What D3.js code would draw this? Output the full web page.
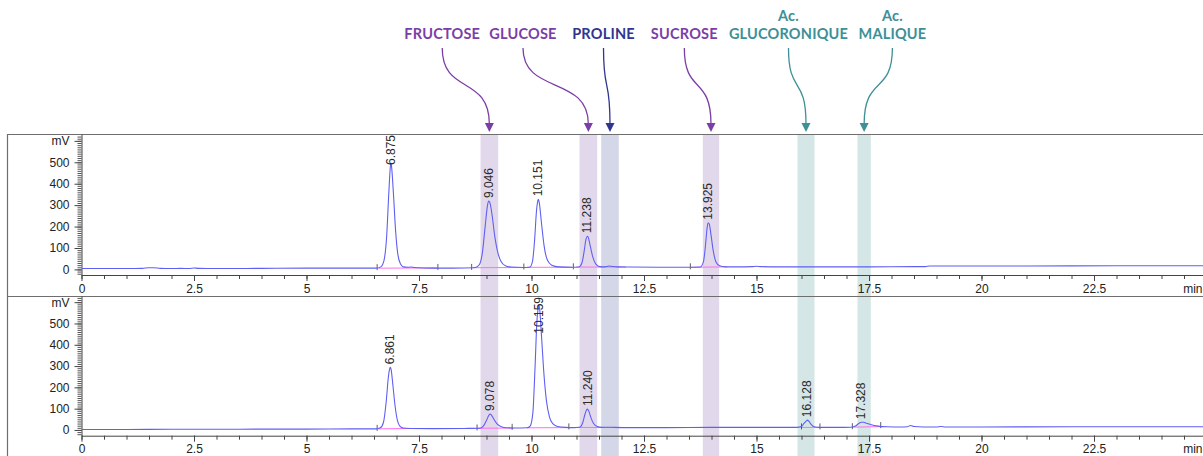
<!DOCTYPE html>
<html>
<head>
<meta charset="utf-8">
<script src="https://cdn.jsdelivr.net/npm/d3@7"></script>
<style>
  html, body { margin: 0; padding: 0; background: #fff; }
  svg { display: block; }
</style>
</head>
<body>
<svg id="chart" width="1203" height="456"></svg>
<script>
// ---------------- DATA ----------------
// Upper chromatogram (time in min, signal in mV)
const topTrace = [
  [0,4],[0.5,4],[1.0,4],[1.35,5],[1.5,8],[1.6,8],[1.75,5],[2.0,4],[2.2,5],[2.4,4],[2.5,7],[2.6,5],[3.0,4],[4.0,5],[5.0,6],[6.0,6],[6.55,6],
  [6.65,12],[6.72,40],[6.78,150],[6.83,360],[6.86,470],[6.875,495],[6.89,480],[6.93,360],[6.98,180],[7.03,70],[7.09,25],[7.15,12],[7.25,10],[7.32,11],[7.4,9],[7.6,7],[8.0,6],[8.5,7],
  [8.75,9],[8.84,22],[8.91,80],[8.97,200],[9.02,295],[9.046,319],[9.07,315],[9.12,260],[9.18,160],[9.25,80],[9.32,38],[9.42,17],[9.55,11],[9.8,9],
  [9.96,10],[10.02,35],[10.07,140],[10.11,270],[10.14,320],[10.151,327],[10.17,315],[10.22,220],[10.28,110],[10.35,45],[10.45,20],[10.6,12],[10.9,10],
  [11.05,11],[11.12,30],[11.17,85],[11.21,140],[11.238,155],[11.26,150],[11.3,115],[11.36,60],[11.43,25],[11.52,13],[11.62,12],[11.72,16],[11.8,14],[11.9,12],[12.2,11],[12.8,10],[13.5,10],
  [13.75,11],[13.82,35],[13.87,120],[13.9,190],[13.925,218],[13.95,212],[13.99,160],[14.04,85],[14.1,35],[14.18,17],[14.3,12],[14.6,12],[14.9,13],[15.0,15],[15.1,13],[15.5,12],[16.5,12],[17.5,12],[18.5,13],[18.75,13],[18.85,16],[19.5,16],[21,16],[23,17],[25,17]
];
// Lower chromatogram
const bottomTrace = [
  [0,2],[1,2],[2,3],[3,3],[4,4],[5,4],[6,5],[6.55,5],
  [6.64,10],[6.71,35],[6.77,130],[6.82,250],[6.85,288],[6.861,294],[6.88,285],[6.92,210],[6.97,110],[7.02,45],[7.08,17],[7.15,9],[7.3,7],[7.8,6],[8.5,7],
  [8.85,8],[8.93,18],[9.0,45],[9.05,68],[9.078,75],[9.11,70],[9.17,48],[9.24,27],[9.33,15],[9.45,10],[9.6,9],[9.9,10],
  [9.97,18],[10.03,80],[10.08,300],[10.12,510],[10.15,575],[10.159,587],[10.18,570],[10.22,450],[10.27,280],[10.33,140],[10.4,60],[10.48,28],[10.58,16],[10.75,12],[10.95,11],
  [11.07,13],[11.14,35],[11.19,75],[11.22,93],[11.24,98],[11.27,90],[11.32,58],[11.38,30],[11.46,16],[11.56,12],[11.7,13],[11.85,12],[12.2,11],[13,11],[14,12],[15,12],[15.9,12],
  [16.0,16],[16.06,32],[16.11,43],[16.128,46],[16.16,42],[16.21,27],[16.28,15],[16.4,12],[16.8,12],[17.1,13],
  [17.2,18],[17.27,30],[17.328,36],[17.38,36],[17.45,31],[17.55,24],[17.7,18],[17.9,15],[18.2,14],[18.35,15],[18.42,21],[18.5,16],[18.7,14],[19.0,14],[19.1,16],[19.2,14],[20,14],[22,15],[25,15]
];

// Peak labels (retention time, label, apex mV)
const topPeakRT     = [6.875, 9.046, 10.151, 11.238, 13.925];
const topPeakLabel  = ["6.875", "9.046", "10.151", "11.238", "13.925"];
const topPeakH      = [495, 319, 327, 155, 218];
const botPeakRT     = [6.861, 9.078, 10.159, 11.240, 16.128, 17.328];
const botPeakLabel  = ["6.861", "9.078", "10.159", "11.240", "16.128", "17.328"];
const botPeakH      = [294, 75, 587, 98, 46, 36];

// Integration baselines [t0, mV0, t1, mV1]
const topIntegration = [[6.6,6,7.9,7],[8.7,8,9.8,9],[9.9,10,10.9,10],[11.0,11,12.1,11],[13.55,10,14.35,12]];
const botIntegration = [[6.6,5,7.3,7],[8.8,8,9.6,9],[9.9,10,10.85,11],[11.0,12,12.0,11],[15.98,12,16.4,12],[17.15,13,17.8,16]];
// Integration markers (min)
const topMarkers = [6.57, 7.92, 8.67, 9.83, 10.93, 13.53];
const botMarkers = [6.57, 8.79, 9.57, 10.83, 16.0, 16.41, 17.13, 17.76];

// Highlighted compounds
const compoundNames  = [["FRUCTOSE"], ["GLUCOSE"], ["PROLINE"], ["SUCROSE"], ["Ac.", "GLUCORONIQUE"], ["Ac.", "MALIQUE"]];
const compoundGroup  = ["sugar", "sugar", "amino", "sugar", "acid", "acid"];
const bandStart      = [8.867, 11.067, 11.549, 13.807, 15.911, 17.244];
const bandEnd        = [9.260, 11.460, 11.940, 14.170, 16.289, 17.540];
const labelAt        = [8.016, 9.811, 11.600, 13.396, 15.711, 18.020];

// Axes ticks
const xMajorTicks = [0, 2.5, 5, 7.5, 10, 12.5, 15, 17.5, 20, 22.5, 25];
const xMinorTicks = d3.range(0, 25.01, 0.5);
const yMajorTicks = [0, 100, 200, 300, 400, 500, 600];
const yMinorTicks = d3.range(-20, 621, 10);

// ---------------- STYLE ----------------
const groupText = { sugar: "#7b3ea8", amino: "#2f3590", acid: "#3d9096" };
const groupBand = { sugar: "#e2d8ec", amino: "#d4d7e7", acid: "#d5e6e6" };
const traceColor = "#5f5ff2";
const integColor = "#ff6cf0";

const svg = d3.select("#chart");
const W = 1203, H = 456;
const x = d3.scaleLinear().domain([0, 25]).range([81.5, 1206.5]);

const panels = [
  { trace: topTrace, rt: topPeakRT, lab: topPeakLabel, h: topPeakH, integ: topIntegration, markers: topMarkers,
    y: d3.scaleLinear().domain([-26, 632]).range([275, 134]), top: 134 },
  { trace: bottomTrace, rt: botPeakRT, lab: botPeakLabel, h: botPeakH, integ: botIntegration, markers: botMarkers,
    y: d3.scaleLinear().domain([-27, 629]).range([435.7, 296]), top: 296 }
];

// Bands
const bands = svg.append("g");
compoundNames.forEach((n, i) => {
  bands.append("rect")
    .attr("x", x(bandStart[i])).attr("y", 134)
    .attr("width", x(bandEnd[i]) - x(bandStart[i])).attr("height", H - 134)
    .attr("fill", groupBand[compoundGroup[i]]);
});

// Frame
const frame = svg.append("g").attr("stroke", "#6e6e6e").attr("stroke-width", 1.2).attr("fill", "none");
frame.append("line").attr("x1", 7).attr("x2", W).attr("y1", 134.5).attr("y2", 134.5);
frame.append("line").attr("x1", 7).attr("x2", W).attr("y1", 296.5).attr("y2", 296.5);
frame.append("line").attr("x1", 7.5).attr("x2", 7.5).attr("y1", 134).attr("y2", H);

const defs = svg.append("defs");

panels.forEach((p, pi) => {
  const y = p.y;
  const yBase = y.range()[0];
  const g = svg.append("g");

  // clip
  defs.append("clipPath").attr("id", "clip" + pi)
    .append("rect").attr("x", x(0)).attr("y", y.range()[1])
    .attr("width", W - x(0)).attr("height", yBase - y.range()[1]);

  // X axis
  const xMinor = g.append("g").attr("transform", `translate(0,${yBase})`)
    .call(d3.axisBottom(x).tickValues(xMinorTicks).tickSize(4).tickFormat(""));
  xMinor.select(".domain").remove();
  xMinor.selectAll("line").attr("stroke", "#444");
  const xAx = g.append("g").attr("transform", `translate(0,${yBase})`)
    .call(d3.axisBottom(x).tickValues(xMajorTicks).tickSize(6).tickSizeOuter(0).tickPadding(3)
      .tickFormat(d => d === 25 ? "min" : String(d)));
  xAx.select(".domain").attr("stroke", "#444");
  xAx.selectAll("line").attr("stroke", "#444");
  xAx.selectAll("text").attr("font-family", "'Liberation Sans', Arial, sans-serif")
    .attr("font-size", 12).attr("fill", "#222");
  // keep the unit label inside the page
  xAx.selectAll(".tick").filter(d => d === 25).select("text")
    .attr("text-anchor", "end").attr("x", W - x(25) - 1);

  // Y axis
  const yMinor = g.append("g").attr("transform", `translate(${x(0)},0)`)
    .call(d3.axisLeft(y).tickValues(yMinorTicks).tickSize(4).tickFormat(""));
  yMinor.select(".domain").remove();
  yMinor.selectAll("line").attr("stroke", "#555");
  const yAx = g.append("g").attr("transform", `translate(${x(0)},0)`)
    .call(d3.axisLeft(y).tickValues(yMajorTicks).tickSize(7).tickSizeOuter(0).tickPadding(5)
      .tickFormat(d => d === 600 ? "mV" : String(d)));
  yAx.select(".domain").attr("stroke", "#444");
  yAx.selectAll("line").attr("stroke", "#444");
  yAx.selectAll("text").attr("font-family", "'Liberation Sans', Arial, sans-serif")
    .attr("font-size", 12).attr("fill", "#222");

  const plot = g.append("g").attr("clip-path", `url(#clip${pi})`);

  // Integration baselines
  p.integ.forEach(s => {
    plot.append("line")
      .attr("x1", x(s[0])).attr("y1", y(s[1])).attr("x2", x(s[2])).attr("y2", y(s[3]))
      .attr("stroke", integColor).attr("stroke-width", 1);
  });
  // Integration markers
  const valueAt = t => {
    const i = d3.bisector(d => d[0]).left(p.trace, t);
    return p.trace[Math.max(0, i - 1)][1];
  };
  p.markers.forEach(t => {
    const yy = y(valueAt(t));
    plot.append("line").attr("x1", x(t)).attr("x2", x(t))
      .attr("y1", yy - 4).attr("y2", yy + 2)
      .attr("stroke", "#333").attr("stroke-width", 0.8);
  });

  // Trace
  const line = d3.line().x(d => x(d[0])).y(d => y(d[1])).curve(d3.curveMonotoneX);
  plot.append("path").datum(p.trace).attr("d", line)
    .attr("fill", "none").attr("stroke", traceColor).attr("stroke-width", 1.1);

  // Peak labels
  p.rt.forEach((rt, i) => {
    const t = g.append("text")
      .attr("font-family", "'Liberation Sans', Arial, sans-serif")
      .attr("font-size", 12).attr("fill", "#2a2a2a")
      .attr("dy", "0.35em")
      .text(p.lab[i]);
    const len = t.node().getComputedTextLength();
    const yEnd = Math.max(y(p.h[i]) - 3, p.top + len + 1);
    t.attr("transform", `translate(${x(rt)},${yEnd}) rotate(-90)`);
  });
});

// Annotations
const ann = svg.append("g");
compoundNames.forEach((lines, i) => {
  const col = groupText[compoundGroup[i]];
  const xs = x(labelAt[i]);
  const xe = x((bandStart[i] + bandEnd[i]) / 2);
  const txt = ann.append("text")
    .attr("font-family", "Lato, 'Open Sans', sans-serif")
    .attr("font-weight", 700).attr("font-size", 14.5)
    .attr("letter-spacing", 0.2)
    .attr("fill", col).attr("text-anchor", "middle");
  lines.forEach((l, k) => {
    txt.append("tspan").attr("x", xs)
      .attr("y", 38.5 - (lines.length - 1 - k) * 17.5)
      .text(l);
  });
  ann.append("path")
    .attr("d", `M${xs},48 C${xs},95 ${xe},75 ${xe},124`)
    .attr("fill", "none").attr("stroke", col).attr("stroke-width", 1.3);
  ann.append("path")
    .attr("d", `M${xe - 4.5},123 L${xe + 4.5},123 L${xe},132 Z`)
    .attr("fill", col);
});
</script>
</body>
</html>
